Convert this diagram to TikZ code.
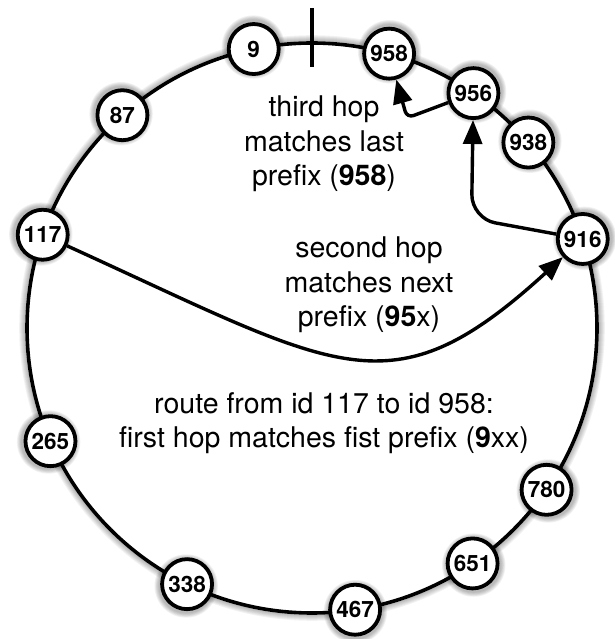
\documentclass[tikz,border=0pt]{standalone}
\usepackage{fontspec}
\setmainfont{TeX Gyre Heros}
\usetikzlibrary{arrows.meta}
\begin{document}
\begin{tikzpicture}[x=1pt,y=1pt,
  ring/.style={line width=3.6pt},
  peer/.style={circle, draw, line width=3.8pt, fill=white, minimum size=50pt, inner sep=0pt,
    font=\fontsize{22.5}{26}\selectfont\bfseries},
  hop/.style={line width=3.4pt, -{Triangle[length=24pt,width=19pt]}},
  caption/.style={align=center, inner sep=0pt, font=\fontsize{28.5}{34.5}\selectfont},
  shade/.style={black, opacity=0.05}]
\useasboundingbox (0,0) rectangle (614,639);
\coordinate (C) at (312,311);
% ring with soft shadow
\foreach \k in {1,...,6} \draw[shade, line width=\k pt] (C) circle[radius={286.8+\k/2}];
\draw[ring] (C) circle[radius=285];
\draw[ring] (312,631) -- (312,572);
% peers
\foreach \ang/\lab in {101.8/9, 74.3/958, 55.5/956, 40.6/938, 18.2/916, -34.6/780,
    -55.7/651, -81.3/467, 244/338, 203.4/265, 160.9/117, 131.7/87} {
  \foreach \k in {1,...,6} \fill[shade] ([shift={(\ang:287)}]C) circle[radius={26.9+\k*0.8}];
  \node[peer] (n\lab) at ([shift={(\ang:285)}]C) {\lab};
}
% captions
\node[caption] (t3) at (324,495) {third hop\\matches last\\prefix (\textbf{958})};
\node[caption] (t2) at (369,354) {second hop\\matches next\\prefix (\textbf{95}x)};
\node[caption] (t1) at (324,216) {route from id 117 to id 958:\\first hop matches fist prefix (\textbf{9}xx)};
% hops
\coordinate (c2) at (471.5,420.5);
\coordinate (c3) at (407,521);
\draw[hop] (n117) .. controls (340,269) and (390,224) .. (n916);
\draw[hop, rounded corners=24pt] (n916) -- (c2) -- (n956);
\draw[hop, rounded corners=7pt] (n956) -- (c3) -- (n958);
\end{tikzpicture}
\end{document}
